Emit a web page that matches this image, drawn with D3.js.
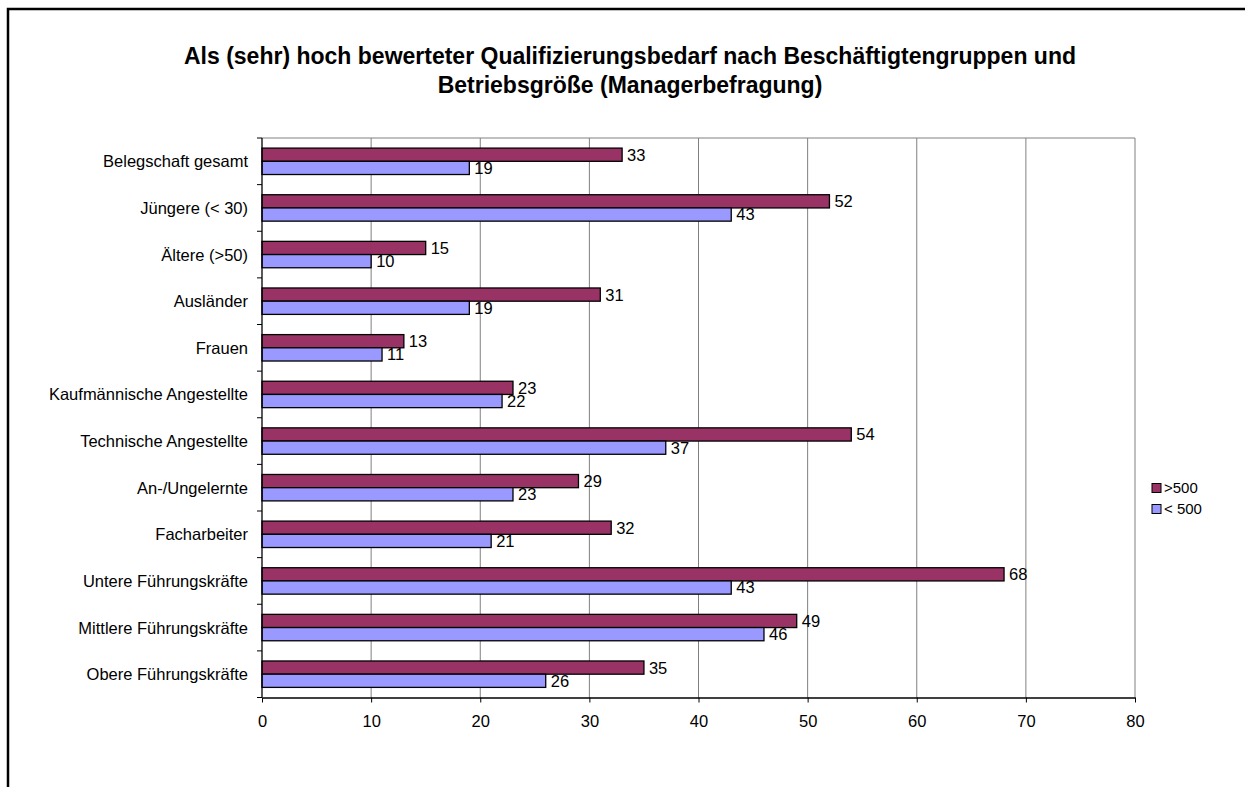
<!DOCTYPE html>
<html><head><meta charset="utf-8">
<script src="https://cdn.jsdelivr.net/npm/d3@7"></script>
<style>body{margin:0;background:#fff}svg{display:block;font-family:"Liberation Sans",Arial,sans-serif}</style>
</head><body><svg id="c" width="1245" height="787"></svg>
<script>
const categories = ["Belegschaft gesamt","Jüngere (< 30)","Ältere (>50)","Ausländer","Frauen","Kaufmännische Angestellte","Technische Angestellte","An-/Ungelernte","Facharbeiter","Untere Führungskräfte","Mittlere Führungskräfte","Obere Führungskräfte"];
const seriesNames = [">500","< 500"];
const valuesLarge = [33,52,15,31,13,23,54,29,32,68,49,35];
const valuesSmall = [19,43,10,19,11,22,37,23,21,43,46,26];
const xTicks = [0,10,20,30,40,50,60,70,80];
const titleLines = ["Als (sehr) hoch bewerteter Qualifizierungsbedarf nach Beschäftigtengruppen und","Betriebsgröße (Managerbefragung)"];

const colors = {">500":"#993366","< 500":"#9999FF"};
const svg = d3.select("#c");
const L=262,R=1135,T=138,B=697.5;
const FS=16.5;

// outer border
svg.append("path").attr("d","M8,787V9H1245").attr("fill","none").attr("stroke","#000").attr("stroke-width",2.5);

// title
svg.append("g").selectAll("text").data(titleLines).join("text")
  .attr("x",630).attr("y",(d,i)=>64+i*29).attr("text-anchor","middle")
  .attr("font-weight","bold").attr("font-size",23).text(d=>d);

const x = d3.scaleLinear().domain([0,80]).range([L,R]);
const y = d3.scaleBand().domain(categories).range([T,B]).padding(0);
const ys = d3.scaleBand().domain(seriesNames).range([0,y.step()]).paddingInner(0).paddingOuter(0.765);

// gridlines
svg.append("g").selectAll("line").data(xTicks.slice(1)).join("line")
  .attr("x1",d=>x(d)).attr("x2",d=>x(d)).attr("y1",T).attr("y2",B)
  .attr("stroke","#808080").attr("stroke-width",1);
svg.append("line").attr("x1",L).attr("x2",R).attr("y1",T).attr("y2",T).attr("stroke","#808080");

// bars
const data = categories.map((c,i)=>({c, v:[[">500",valuesLarge[i]],["< 500",valuesSmall[i]]]}));
const g = svg.append("g").selectAll("g").data(data).join("g").attr("transform",d=>`translate(0,${y(d.c)})`);
g.selectAll("rect").data(d=>d.v).join("rect")
  .attr("x",x(0)).attr("y",d=>ys(d[0])).attr("width",d=>x(d[1])-x(0)).attr("height",ys.bandwidth())
  .attr("fill",d=>colors[d[0]]).attr("stroke","#000").attr("stroke-width",1.3);
g.selectAll("text").data(d=>d.v).join("text")
  .attr("x",d=>x(d[1])+5).attr("y",d=>ys(d[0])+ys.bandwidth()/2).attr("dy","0.36em")
  .attr("font-size",FS).text(d=>d[1]);

// category axis
svg.append("line").attr("x1",L).attr("x2",L).attr("y1",T).attr("y2",B).attr("stroke","#000").attr("stroke-width",1.3);
const bounds = categories.map(c=>y(c)).concat([y(categories[categories.length-1])+y.step()]);
svg.append("g").selectAll("line").data(bounds).join("line")
  .attr("x1",L-5).attr("x2",L).attr("y1",d=>d).attr("y2",d=>d).attr("stroke","#000");
svg.append("g").selectAll("text").data(categories).join("text")
  .attr("x",248).attr("y",d=>y(d)+y.step()/2).attr("dy","0.36em").attr("text-anchor","end")
  .attr("font-size",FS).text(d=>d);

// value axis
const xa = svg.append("g").attr("transform",`translate(0,${B})`)
  .call(d3.axisBottom(x).tickValues(xTicks).tickSize(5).tickPadding(13).tickSizeOuter(0));
xa.select(".domain").attr("stroke","#000").attr("stroke-width",1.3);
xa.selectAll("text").attr("font-size",FS).attr("font-family","Liberation Sans, Arial, sans-serif").attr("fill","#000");

// legend
const lg = svg.append("g").attr("transform","translate(1152,488)");
const li = lg.selectAll("g").data(seriesNames).join("g").attr("transform",(d,i)=>`translate(0,${i*21})`);
li.append("rect").attr("x",0).attr("y",-4.5).attr("width",9).attr("height",9).attr("fill",d=>colors[d]).attr("stroke","#000");
li.append("text").attr("x",12).attr("y",0).attr("dy","0.36em").attr("font-size",15).text(d=>d);
</script></body></html>
